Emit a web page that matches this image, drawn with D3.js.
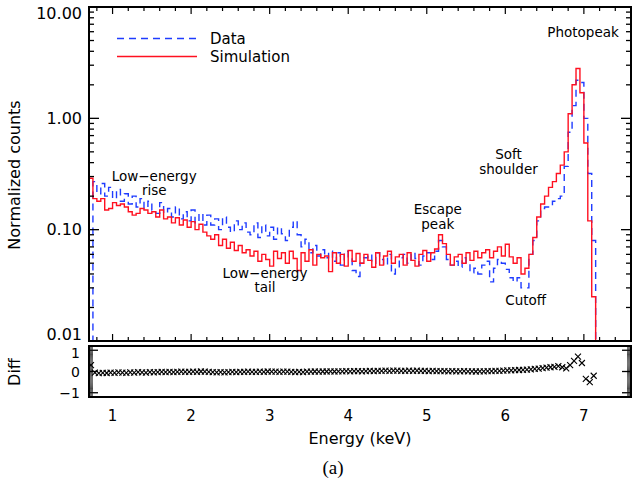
<!DOCTYPE html>
<html><head><meta charset="utf-8">
<script src="https://cdn.jsdelivr.net/npm/d3@7"></script>
<style>
body{margin:0;background:#fff;}
text{font-family:"DejaVu Sans",sans-serif;fill:#000;}
</style></head>
<body><svg id="c" width="634" height="488"></svg>
<script>
// ---- data ----
const binStart = 0.70, binWidth = 0.05;
const simulation = [
0.29,0.19,0.18,0.19,0.15,0.155,0.175,0.165,0.17,0.16,
0.145,0.135,0.14,0.155,0.15,0.14,0.145,0.13,0.15,0.125,
0.13,0.115,0.128,0.11,0.122,0.105,0.118,0.1,0.112,0.095,
0.088,0.082,0.09,0.072,0.082,0.068,0.077,0.065,0.072,0.062,
0.066,0.058,0.064,0.052,0.06,0.054,0.047,0.064,0.055,0.062,
0.05,0.064,0.055,0.043,0.062,0.052,0.066,0.048,0.06,0.056,
0.058,0.042,0.062,0.05,0.06,0.047,0.065,0.052,0.061,0.05,
0.06,0.053,0.046,0.062,0.048,0.058,0.064,0.05,0.057,0.06,
0.048,0.062,0.053,0.047,0.06,0.065,0.052,0.062,0.067,0.09,
0.075,0.06,0.048,0.057,0.06,0.05,0.062,0.053,0.064,0.056,
0.062,0.066,0.056,0.064,0.07,0.058,0.074,0.057,0.05,0.056,
0.04,0.045,0.06,0.085,0.13,0.17,0.2,0.24,0.27,0.32,
0.38,0.5,1.1,2.0,2.8,1.7,0.6,0.12,0.025];
const data = [
0.005,0.27,0.21,0.26,0.2,0.24,0.19,0.23,0.18,0.21,
0.17,0.2,0.16,0.19,0.155,0.18,0.15,0.14,0.175,0.14,
0.155,0.13,0.16,0.125,0.145,0.12,0.15,0.115,0.14,0.11,
0.135,0.11,0.125,0.1,0.13,0.105,0.095,0.12,0.1,0.115,
0.095,0.09,0.115,0.085,0.11,0.088,0.105,0.082,0.105,0.092,
0.08,0.105,0.12,0.09,0.07,0.082,0.062,0.072,0.058,0.066,
0.056,0.064,0.052,0.062,0.048,0.064,0.057,0.043,0.038,0.05,
0.056,0.06,0.05,0.062,0.054,0.048,0.06,0.04,0.045,0.056,
0.06,0.05,0.062,0.055,0.048,0.058,0.062,0.054,0.064,0.08,
0.07,0.054,0.048,0.052,0.046,0.056,0.05,0.041,0.045,0.04,
0.048,0.052,0.034,0.045,0.054,0.05,0.044,0.037,0.034,0.037,
0.03,0.03,0.06,0.08,0.12,0.155,0.16,0.165,0.18,0.19,
0.2,0.37,0.75,1.3,2.2,2.1,1.0,0.32,0.08];
const diff = [
0.3,-0.05,-0.08,-0.06,-0.07,-0.05,-0.06,-0.04,-0.05,-0.06,
-0.04,-0.05,-0.03,-0.04,-0.05,-0.03,-0.04,-0.03,-0.02,-0.03,
-0.02,-0.03,-0.02,-0.01,-0.02,-0.02,-0.01,-0.02,0,-0.01,
-0.02,-0.03,-0.04,-0.03,-0.04,-0.03,-0.02,-0.03,-0.02,-0.02,
-0.01,-0.02,-0.02,-0.01,-0.02,0,-0.01,-0.01,-0.02,-0.01,
-0.01,-0.02,-0.03,-0.02,-0.03,-0.01,-0.01,0,-0.01,0,
0,0.01,0,0.01,0.01,0.02,0.01,0.02,0.02,0.01,
0.02,0.03,0.02,0.03,0.03,0.04,0.03,0.04,0.04,0.03,
0.03,0.04,0.03,0.04,0.03,0.03,0.02,0.03,0.02,0.02,
0.02,0.01,0.02,0.01,0.01,0.02,0.01,0.01,0,0.01,
0.01,0.02,0.02,0.03,0.03,0.04,0.05,0.05,0.06,0.07,
0.08,0.09,0.1,0.12,0.14,0.16,0.18,0.2,0.22,0.25,
0.2,0.15,0.3,0.5,0.7,0.4,-0.35,-0.5,-0.2];
const xTickValues = [1,2,3,4,5,6,7];
const xTickLabels = ["1","2","3","4","5","6","7"];
const yTickValues = [0.01,0.1,1,10];
const yTickLabels = ["0.01","0.10","1.00","10.00"];
const dTickValues = [-1,0,1];
const dTickLabels = ["\u22121","0","1"];
const seriesNames = ["Data","Simulation"];
const annotations = [
  {lines:["Low\u2212energy","rise"], e:1.53, v:0.275},
  {lines:["Low\u2212energy","tail"], e:2.94, v:0.037},
  {lines:["Escape","peak"], e:5.14, v:0.137},
  {lines:["Soft","shoulder"], e:6.04, v:0.43},
  {lines:["Photopeak"], e:6.99, v:5.4},
  {lines:["Cutoff"], e:6.26, v:0.021}
];

// ---- layout ----
const L=89, R=631, T=7, B=341, DT=346, DB=397;
const svg=d3.select("#c");
const x=d3.scaleLinear().domain([0.7,7.6]).range([L,R]);
const y=d3.scaleLog().domain([0.01,10]).range([B,T]);
const yd=d3.scaleLinear().domain([-1.2,1.2]).range([DB,DT]);
const energies=simulation.map((_,i)=>+(binStart+i*binWidth).toFixed(3));

svg.append("clipPath").attr("id","clipM").append("rect").attr("x",L).attr("y",T).attr("width",R-L).attr("height",B-T);
svg.append("clipPath").attr("id","clipD").append("rect").attr("x",L).attr("y",DT).attr("width",R-L).attr("height",DB-DT);

function stepPts(vals){
  const p=vals.map((v,i)=>[energies[i],v]);
  const last=energies[vals.length-1]+binWidth;
  p.push([last,vals[vals.length-1]]);
  p.push([last,0.001]);
  return p;
}
const line=d3.line().x(d=>x(d[0])).y(d=>y(Math.max(d[1],0.001))).curve(d3.curveStepAfter);
const gM=svg.append("g").attr("clip-path","url(#clipM)");
gM.append("path").attr("d",line(stepPts(data))).attr("fill","none")
  .attr("stroke","#1f3cff").attr("stroke-width",1.4).attr("stroke-dasharray","7,5");
gM.append("path").attr("d",line(stepPts(simulation))).attr("fill","none")
  .attr("stroke","#ff1020").attr("stroke-width",1.4);

// ---- axes main ----
const ax=svg.append("g").attr("stroke","#000").attr("fill","none");
const xMinor=d3.range(8,77,2).map(v=>v/10).filter(v=>v%1!==0);
[[xMinor,4],[xTickValues,7]].forEach(([vals,len])=>{
  vals.forEach(v=>{
    ax.append("line").attr("x1",x(v)).attr("x2",x(v)).attr("y1",B).attr("y2",B-len).attr("stroke-width",1.2);
    ax.append("line").attr("x1",x(v)).attr("x2",x(v)).attr("y1",T).attr("y2",T+len).attr("stroke-width",1.2);
  });
});
y.ticks().forEach(v=>{
  const maj=Math.abs(Math.log10(v)-Math.round(Math.log10(v)))<1e-9;
  const len=maj?10:5;
  ax.append("line").attr("x1",L).attr("x2",L+len).attr("y1",y(v)).attr("y2",y(v)).attr("stroke-width",1.3);
  ax.append("line").attr("x1",R).attr("x2",R-len).attr("y1",y(v)).attr("y2",y(v)).attr("stroke-width",1.3);
});
ax.append("rect").attr("x",L).attr("y",T).attr("width",R-L).attr("height",B-T).attr("stroke-width",2);

yTickValues.forEach((v,i)=>{
  let yy=y(v);
  if(i===yTickValues.length-1) yy+=6;
  if(i===0) yy-=7;
  svg.append("text").attr("x",82).attr("y",yy).attr("dy","0.36em").attr("text-anchor","end")
    .attr("font-size",16).text(yTickLabels[i]);
});

// ---- legend ----
const lg=[{y:38.5,color:"#1f3cff",dash:"7,5"},{y:56.5,color:"#ff1020",dash:null}];
lg.forEach((d,i)=>{
  const l=svg.append("line").attr("x1",117).attr("x2",197).attr("y1",d.y).attr("y2",d.y)
    .attr("stroke",d.color).attr("stroke-width",1.4);
  if(d.dash) l.attr("stroke-dasharray",d.dash);
  svg.append("text").attr("x",210).attr("y",d.y+5).attr("font-size",15).text(seriesNames[i]);
});

// ---- annotations ----
annotations.forEach(a=>{
  a.lines.forEach((s,k)=>{
    svg.append("text").attr("x",x(a.e)).attr("y",y(a.v)+k*14.5).attr("text-anchor","middle")
      .attr("font-size",13.5).text(s);
  });
});

// ---- diff panel ----
const gD=svg.append("g").attr("clip-path","url(#clipD)");
diff.forEach((v,i)=>{
  const cx=x(energies[i]+binWidth/2), cy=yd(v), s=3;
  gD.append("path").attr("d",`M${cx-s},${cy-s}L${cx+s},${cy+s}M${cx-s},${cy+s}L${cx+s},${cy-s}`)
    .attr("stroke","#000").attr("stroke-width",1.1);
});
const dax=svg.append("g").attr("stroke","#000");
d3.range(-24,25).map(v=>v/20).forEach(v=>{
  if(v<-1.2||v>1.2) return;
  const maj=dTickValues.some(t=>Math.abs(t-v)<1e-9);
  const len=maj?9:4;
  dax.append("line").attr("x1",L).attr("x2",L+len).attr("y1",yd(v)).attr("y2",yd(v)).attr("stroke-width",maj?1.3:0.7);
  dax.append("line").attr("x1",R).attr("x2",R-len).attr("y1",yd(v)).attr("y2",yd(v)).attr("stroke-width",maj?1.3:0.7);
});
dax.append("rect").attr("x",L).attr("y",DT).attr("width",R-L).attr("height",DB-DT).attr("fill","none").attr("stroke-width",2);
dTickValues.forEach((v,i)=>{
  let yy=yd(v);
  if(i===dTickValues.length-1) yy+=2.5;
  svg.append("text").attr("x",80).attr("y",yy).attr("dy","0.36em").attr("text-anchor","end")
    .attr("font-size",14).text(dTickLabels[i]);
});
xTickValues.forEach((v,i)=>{
  svg.append("text").attr("x",x(v)).attr("y",421).attr("text-anchor","middle").attr("font-size",15).text(xTickLabels[i]);
});

// ---- titles ----
svg.append("text").attr("transform","translate(20,175) rotate(-90)").attr("text-anchor","middle")
  .attr("font-size",16).text("Normalized counts");
svg.append("text").attr("transform","translate(20,372) rotate(-90)").attr("text-anchor","middle")
  .attr("font-size",16).text("Diff");
svg.append("text").attr("x",360).attr("y",444).attr("text-anchor","middle").attr("font-size",16).text("Energy (keV)");
svg.append("text").attr("x",333).attr("y",474).attr("text-anchor","middle")
  .style("font-family","'Liberation Serif',serif").attr("font-size",19).text("(a)");
</script></body></html>
